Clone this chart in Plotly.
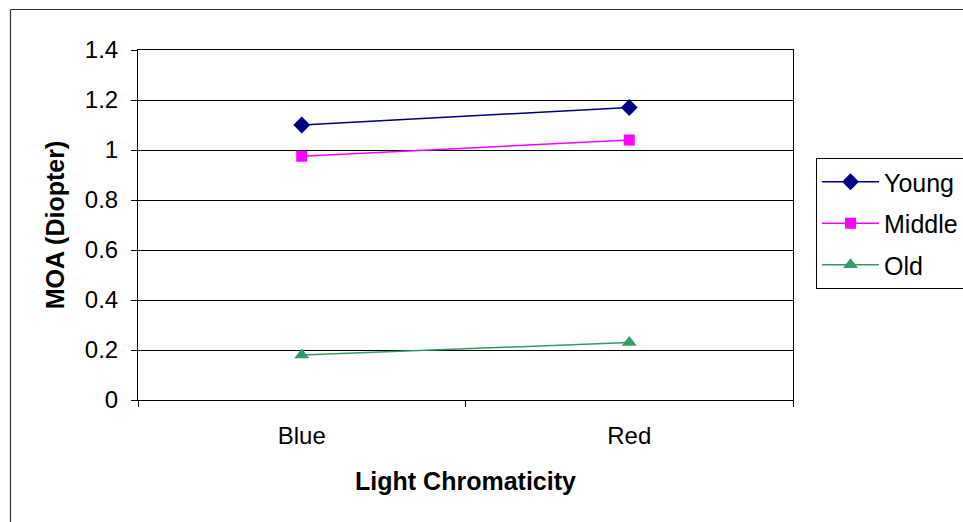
import plotly.graph_objects as go

categories = ["Blue", "Red"]
young = [1.10, 1.17]
middle = [0.975, 1.04]
old = [0.18, 0.23]
series_names = ["Young", "Middle", "Old"]
y_ticks = [0, 0.2, 0.4, 0.6, 0.8, 1, 1.2, 1.4]
y_tick_text = ["0", "0.2", "0.4", "0.6", "0.8", "1", "1.2", "1.4"]

L, T, R, B = 138, 50, 793, 400
W, H = 963, 522
pw, ph = R - L, B - T
FAM = "Arial, Liberation Sans, sans-serif"

fig = go.Figure()
styles = [
    dict(color="#000080", symbol="diamond", size=13),
    dict(color="#FF00FF", symbol="square", size=11),
    dict(color="#339966", symbol="triangle-up", size=13),
]
for i, (name, vals, st) in enumerate(zip(series_names, [young, middle, old], styles)):
    fig.add_trace(go.Scatter(
        x=categories, y=vals, name=name, mode="lines+markers",
        legendgroup="g%d" % i,
        line=dict(color=st["color"], width=1.5),
        marker=dict(color=st["color"], symbol=st["symbol"], size=st["size"]),
    ))

def px_x(p):
    return (p - L) / pw
def px_y(p):
    return (B - p) / ph

fig.update_layout(
    width=W, height=H,
    margin=dict(l=L, r=W - R, t=T, b=H - B, autoexpand=False),
    paper_bgcolor="white", plot_bgcolor="white",
    font=dict(family=FAM, size=24, color="black"),
    showlegend=True,
    legend=dict(
        x=px_x(816), y=px_y(158), xanchor="left", yanchor="top",
        bordercolor="black", borderwidth=1, bgcolor="white",
        font=dict(family=FAM, size=25), tracegroupgap=6, itemwidth=57,
    ),
    xaxis=dict(
        type="category", range=[-0.5, 1.5], tickson="boundaries",
        ticks="outside", ticklen=6, tickcolor="black",
        showline=True, linecolor="black", linewidth=1, mirror=True,
        showgrid=False, ticklabelstandoff=14,
        title=dict(text="<b>Light Chromaticity</b>", standoff=24,
                   font=dict(family=FAM, size=25)),
        tickfont=dict(family=FAM, size=24),
    ),
    yaxis=dict(
        range=[0, 1.4], tickvals=y_ticks, ticktext=y_tick_text,
        ticks="outside", ticklen=6, tickcolor="black",
        showline=True, linecolor="black", linewidth=1, mirror=True,
        showgrid=True, gridcolor="black", gridwidth=1, zeroline=False,
        ticklabelstandoff=8,
        title=dict(text="<b>MOA (Diopter)</b>", standoff=13,
                   font=dict(family=FAM, size=25)),
        tickfont=dict(family=FAM, size=24),
    ),
    shapes=[
        dict(type="line", xref="paper", yref="paper",
             x0=px_x(10.5), x1=px_x(10.5), y0=px_y(9.5), y1=px_y(H + 5),
             line=dict(color="#333333", width=1.2)),
        dict(type="line", xref="paper", yref="paper",
             x0=px_x(10.5), x1=px_x(W + 5), y0=px_y(9.5), y1=px_y(9.5),
             line=dict(color="#333333", width=1.2)),
    ],
)

fig.write_html("out.html")
